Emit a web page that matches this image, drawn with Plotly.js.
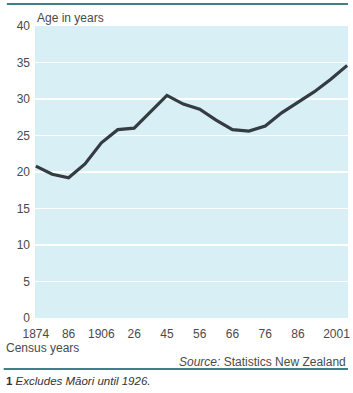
<!DOCTYPE html>
<html>
<head>
<meta charset="utf-8">
<script src="https://cdn.plot.ly/plotly-3.0.1.min.js"></script>
<style>
html,body{margin:0;padding:0;background:#fff;}
#chart{width:353px;height:393px;}
</style>
</head>
<body>
<div id="chart"></div>
<script>
// Census years (one point per census)
const censusYears = [1874, 1881, 1886, 1896, 1906, 1916, 1926, 1936, 1945, 1951, 1956, 1961, 1966, 1971, 1976, 1981, 1986, 1991, 1996, 2001];
// Median age in years
const medianAge = [20.8, 19.7, 19.2, 21.1, 24.0, 25.8, 26.0, 28.2, 30.5, 29.3, 28.6, 27.1, 25.8, 25.6, 26.3, 28.1, 29.6, 31.0, 32.7, 34.6];
// Tick labels on the x axis
const xTickLabels = ["1874", "86", "1906", "26", "45", "56", "66", "76", "86", "2001"];
const xTickYears = [1874, 1886, 1906, 1926, 1945, 1956, 1966, 1976, 1986, 2001];
const yTicks = [0, 5, 10, 15, 20, 25, 30, 35, 40];

const idx = censusYears.map((y, i) => i);
const tickPos = xTickYears.map(y => {
  const i = censusYears.indexOf(y);
  return i === censusYears.length - 1 ? i - 0.65 : i;
});

const textCol = '#4a4a4a';
const font = 'Liberation Sans, Arial, sans-serif';

const data = [{
  x: idx,
  y: medianAge,
  type: 'scatter',
  mode: 'lines',
  line: {color: '#343c42', width: 3.2},
  hoverinfo: 'skip'
}];

const layout = {
  width: 353, height: 393,
  margin: {l: 35, r: 5, t: 26, b: 75},
  paper_bgcolor: '#ffffff',
  plot_bgcolor: '#d9eff6',
  showlegend: false,
  font: {family: font, size: 12, color: textCol},
  xaxis: {
    range: [-0.05, 19.05],
    tickmode: 'array',
    tickvals: tickPos,
    ticktext: xTickLabels,
    showgrid: false, zeroline: false, showline: false,
    ticks: '', ticklen: 0, ticklabelstandoff: 7,
    tickfont: {family: font, size: 12, color: textCol},
    fixedrange: true
  },
  yaxis: {
    range: [0, 40],
    tickmode: 'array',
    tickvals: yTicks,
    showgrid: true, gridcolor: '#ffffff', gridwidth: 1.5,
    zeroline: false, showline: false,
    ticks: '', ticklabelstandoff: 4,
    tickfont: {family: font, size: 12, color: textCol},
    fixedrange: true
  },
  shapes: [
    {type: 'line', xref: 'paper', yref: 'paper', x0: -0.09, x1: 1, y0: 1 + 22/292, y1: 1 + 22/292,
     line: {color: '#3f7f87', width: 2}},
    {type: 'line', xref: 'paper', yref: 'paper', x0: -0.1, x1: 1, y0: -51/292, y1: -51/292,
     line: {color: '#3f7f87', width: 2}}
  ],
  annotations: [
    {text: 'Age in years', xref: 'paper', yref: 'paper', x: 0, y: 1 + 8/292, xanchor: 'left', yanchor: 'middle',
     showarrow: false, font: {family: font, size: 12, color: textCol}},
    {text: 'Census years', xref: 'paper', yref: 'paper', x: -31/313, y: -30/292, xanchor: 'left', yanchor: 'middle',
     showarrow: false, font: {family: font, size: 12, color: textCol}},
    {text: '<i>Source:</i> Statistics New Zealand', xref: 'paper', yref: 'paper', x: 1, y: -44/292, xanchor: 'right', yanchor: 'middle',
     showarrow: false, font: {family: font, size: 12, color: textCol}},
    {text: '<b>1</b> <i>Excludes Māori until 1926.</i>', xref: 'paper', yref: 'paper', x: -31/313, y: -63/292, xanchor: 'left', yanchor: 'middle',
     showarrow: false, font: {family: font, size: 11.5, color: '#333333'}}
  ]
};

Plotly.newPlot('chart', data, layout, {displayModeBar: false, staticPlot: true});
</script>
</body>
</html>
